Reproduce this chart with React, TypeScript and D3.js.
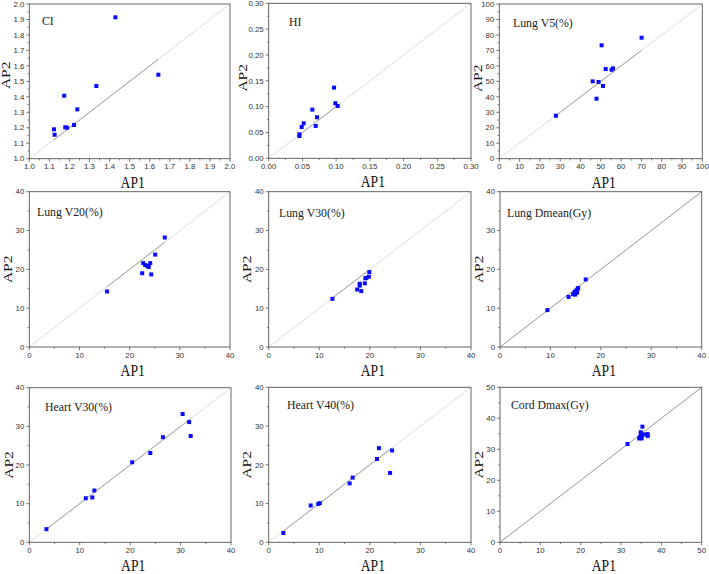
import React from "react";
import * as d3 from "d3";

// ---------- data ----------
const panelTitles = ["CI", "HI", "Lung V5(%)", "Lung V20(%)", "Lung V30(%)", "Lung Dmean(Gy)", "Heart V30(%)", "Heart V40(%)", "Cord Dmax(Gy)"];
const axisDomains: [number, number][] = [[1, 2], [0, 0.3], [0, 100], [0, 40], [0, 40], [0, 40], [0, 40], [0, 40], [0, 50]];
const tickSteps = [0.1, 0.05, 10, 10, 10, 10, 10, 10, 10];
const tickFormats = [".1f", ".2f", "d", "d", "d", "d", "d", "d", "d"];
const xLabel = "AP1";
const yLabel = "AP2";

const ciAP1 = [1.429, 1.643, 1.334, 1.174, 1.239, 1.223, 1.179, 1.188, 1.123, 1.126];
const ciAP2 = [1.914, 1.543, 1.470, 1.407, 1.319, 1.218, 1.203, 1.200, 1.190, 1.155];
const hiAP1 = [0.0969, 0.0647, 0.0988, 0.1023, 0.0717, 0.0697, 0.0519, 0.0489, 0.0455, 0.0455];
const hiAP2 = [0.1368, 0.0942, 0.1065, 0.1013, 0.0794, 0.0626, 0.0677, 0.0606, 0.0465, 0.0432];
const lungV5AP1 = [70.1, 50.4, 52.4, 55.3, 56.0, 46.0, 48.9, 51.1, 47.9, 27.9];
const lungV5AP2 = [78.2, 73.3, 58.0, 57.5, 58.4, 50.0, 49.6, 47.0, 38.8, 27.8];
const lungV20AP1 = [27.0, 25.1, 22.7, 23.1, 23.5, 24.1, 23.8, 22.5, 24.3, 15.5];
const lungV20AP2 = [28.2, 23.8, 21.6, 21.1, 20.9, 21.6, 20.6, 19.0, 18.7, 14.3];
const lungV30AP1 = [19.9, 19.8, 19.1, 19.3, 19.0, 18.0, 18.0, 17.5, 18.3, 12.6];
const lungV30AP2 = [19.3, 18.1, 17.7, 17.8, 16.4, 16.3, 15.8, 14.8, 14.4, 12.4];
const lungDmeanAP1 = [17.0, 9.4, 13.6, 14.5, 14.8, 15.0, 15.2, 15.4, 15.3, 14.9, 15.5];
const lungDmeanAP2 = [17.4, 9.5, 12.9, 13.6, 14.1, 14.3, 14.6, 15.0, 14.0, 13.5, 15.2];
const heartV30AP1 = [30.4, 31.7, 32.0, 26.5, 24.0, 20.4, 12.9, 12.5, 11.2, 3.4];
const heartV30AP2 = [33.2, 31.1, 27.5, 27.2, 23.1, 20.7, 13.4, 11.6, 11.4, 3.4];
const heartV40AP1 = [21.8, 24.4, 21.4, 24.0, 16.6, 16.0, 10.1, 9.8, 8.3, 2.9];
const heartV40AP2 = [24.3, 23.7, 21.5, 17.9, 16.7, 15.2, 10.1, 9.9, 9.5, 2.4];
const cordDmaxAP1 = [31.6, 35.3, 34.9, 36.6, 36.6, 35.8, 34.7, 35.1, 34.5, 34.9, 35.1];
const cordDmaxAP2 = [31.7, 37.3, 35.5, 34.9, 34.3, 34.8, 33.9, 33.5, 33.5, 35.0, 34.2];

const seriesAP1 = [ciAP1, hiAP1, lungV5AP1, lungV20AP1, lungV30AP1, lungDmeanAP1, heartV30AP1, heartV40AP1, cordDmaxAP1];
const seriesAP2 = [ciAP2, hiAP2, lungV5AP2, lungV20AP2, lungV30AP2, lungDmeanAP2, heartV30AP2, heartV40AP2, cordDmaxAP2];

// ---------- layout ----------
const plotRects = [
  { x0: 29.3, x1: 230, y0: 4, y1: 158.7 },
  { x0: 268.7, x1: 471, y0: 3.3, y1: 158.3 },
  { x0: 499.3, x1: 702.3, y0: 4, y1: 158.7 },
  { x0: 29.3, x1: 230, y0: 191.7, y1: 347 },
  { x0: 268.7, x1: 471, y0: 191.7, y1: 347 },
  { x0: 500, x1: 701.7, y0: 191.7, y1: 347 },
  { x0: 29.3, x1: 231, y0: 387.7, y1: 542.3 },
  { x0: 268.7, x1: 471, y0: 387.3, y1: 542.3 },
  { x0: 500, x1: 701.7, y0: 387.3, y1: 542.3 },
];
const titlePos = [
  [42, 25], [289, 26], [513, 26.7],
  [37, 216], [279, 217], [507, 217],
  [45, 410.7], [287, 409], [511, 409],
];
const yLabelOffset = [19, 22, 17, 17.6, 17.7, 17, 16.6, 18, 17];
const yLabelShift = [-6, -3, -3, 0, 0, 0, 0, 0, 0];
const solidDiag = [false, false, false, false, false, true, false, false, true];

const TICK_FONT = "'Liberation Sans', Arial, sans-serif";
const SERIF = "'Liberation Serif', 'Times New Roman', serif";

function Panel({ i }: { i: number }) {
  const r = plotRects[i];
  const dom = axisDomains[i];
  const step = tickSteps[i];
  const x = d3.scaleLinear().domain(dom).range([r.x0, r.x1]);
  const y = d3.scaleLinear().domain(dom).range([r.y1, r.y0]);
  const n = Math.round((dom[1] - dom[0]) / step);
  const majors = d3.range(n + 1).map((k) => dom[0] + k * step);
  const minors = d3.range(n).map((k) => dom[0] + (k + 0.5) * step);
  const fmt = d3.format(tickFormats[i]);
  const a1 = seriesAP1[i];
  const a2 = seriesAP2[i];
  const lo = d3.min(a1) as number;
  const hi = d3.max(a1) as number;
  const line = d3.line<number>().x((v) => x(v)).y((v) => y(v));
  const ms = 4;
  const cx = (r.x0 + r.x1) / 2;
  const cy = (r.y0 + r.y1) / 2 + yLabelShift[i];
  const axisColor = "#555";
  return (
    <g>
      {solidDiag[i] ? (
        <path d={line([dom[0], dom[1]]) as string} stroke="#8a8a8a" strokeWidth={0.9} fill="none" />
      ) : (
        <>
          <path d={line([dom[0], dom[1]]) as string} stroke="#b8b8b8" strokeWidth={0.8} strokeDasharray="1.5,1" fill="none" />
          <path d={line([lo, hi]) as string} stroke="#808080" strokeWidth={0.7} fill="none" />
        </>
      )}
      <rect x={r.x0} y={r.y0} width={r.x1 - r.x0} height={r.y1 - r.y0} fill="none" stroke={axisColor} strokeWidth={0.9} />
      {majors.map((v, k) => (
        <g key={"xm" + k}>
          <line x1={x(v)} x2={x(v)} y1={r.y1} y2={r.y1 + 3} stroke={axisColor} strokeWidth={0.8} />
          <text x={x(v)} y={r.y1 + 10.5} fontFamily={TICK_FONT} fontSize={7.8} fill="#333" textAnchor="middle">{fmt(v)}</text>
        </g>
      ))}
      {minors.map((v, k) => (
        <line key={"xn" + k} x1={x(v)} x2={x(v)} y1={r.y1} y2={r.y1 + 1.8} stroke={axisColor} strokeWidth={0.7} />
      ))}
      {majors.map((v, k) => (
        <g key={"ym" + k}>
          <line x1={r.x0 - 3} x2={r.x0} y1={y(v)} y2={y(v)} stroke={axisColor} strokeWidth={0.8} />
          <text x={r.x0 - 5} y={y(v) + 2.7} fontFamily={TICK_FONT} fontSize={7.8} fill="#333" textAnchor="end">{fmt(v)}</text>
        </g>
      ))}
      {minors.map((v, k) => (
        <line key={"yn" + k} x1={r.x0 - 1.8} x2={r.x0} y1={y(v)} y2={y(v)} stroke={axisColor} strokeWidth={0.7} />
      ))}
      {a1.map((v, k) => (
        <rect key={"p" + k} x={x(v) - ms / 2} y={y(a2[k]) - ms / 2} width={ms} height={ms} fill="#0a0aff" />
      ))}
      <text x={titlePos[i][0]} y={titlePos[i][1]} fontFamily={SERIF} fontSize={11.8} fill="#222">{panelTitles[i]}</text>
      <text transform={`translate(${cx + 3},${r.y1 + 29}) scale(0.85,1)`} fontFamily={SERIF} fontSize={16} fill="#111" textAnchor="middle">{xLabel}</text>
      <text transform={`translate(${r.x0 - yLabelOffset[i]},${cy}) scale(0.82,1) rotate(-90)`} fontFamily={SERIF} fontSize={15.5} fill="#111" textAnchor="middle">{yLabel}</text>
    </g>
  );
}

export default function App() {
  return (
    <svg width={709} height={574} style={{ position: "absolute", left: 0, top: 0, background: "#fff" }}>
      <rect width={709} height={574} fill="#fff" />
      {panelTitles.map((_, i) => (
        <Panel key={i} i={i} />
      ))}
    </svg>
  );
}
